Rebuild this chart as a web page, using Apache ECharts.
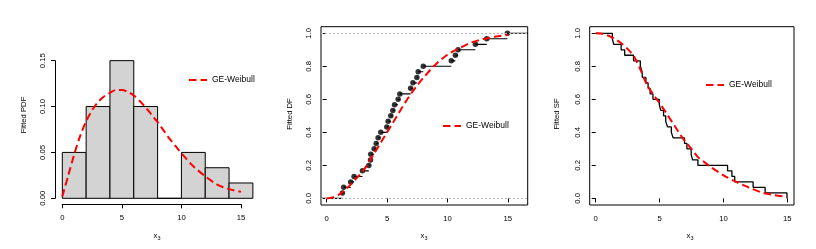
<!DOCTYPE html>
<html><head><meta charset="utf-8">
<script src="https://cdn.jsdelivr.net/npm/echarts@6/dist/echarts.min.js"></script>
<style>html,body{margin:0;padding:0;background:#fff}#c{width:816px;height:249px}</style>
</head><body><div id="c"></div>
<script>
// ---- data ----
const binEdges = [0, 2, 4, 6, 8, 10, 12, 14, 16];
const binDensity = [0.05, 0.10, 0.15, 0.10, 0, 0.05, 0.0333, 0.0167];

const pdfX = [0, 0.5, 1, 1.5, 2, 2.5, 3, 3.5, 4, 4.5, 5, 5.5, 6, 6.5, 7, 7.5, 8, 8.5, 9, 9.5, 10, 11, 12, 13, 14, 15];
const pdfY = [0.002, 0.025, 0.048, 0.068, 0.084, 0.096, 0.105, 0.111, 0.115, 0.118, 0.118, 0.116, 0.112, 0.106, 0.099, 0.091, 0.083, 0.074, 0.065, 0.057, 0.049, 0.035, 0.024, 0.015, 0.010, 0.007];

const sampleX = [1.30, 1.41, 1.99, 2.27, 2.96, 3.49, 3.63, 3.65, 3.93, 4.10, 4.26, 4.48, 4.98, 5.09, 5.31, 5.48, 5.62, 5.92, 6.06, 6.95, 7.14, 7.47, 7.58, 8.00, 10.32, 10.66, 10.88, 12.32, 13.26, 14.97];
const ecdfY = [0.033, 0.067, 0.100, 0.133, 0.167, 0.200, 0.233, 0.267, 0.300, 0.333, 0.367, 0.400, 0.433, 0.467, 0.500, 0.533, 0.567, 0.600, 0.633, 0.667, 0.700, 0.733, 0.767, 0.800, 0.833, 0.867, 0.900, 0.933, 0.967, 1.000];
const esfY = [0.967, 0.933, 0.900, 0.867, 0.833, 0.800, 0.767, 0.733, 0.700, 0.667, 0.633, 0.600, 0.567, 0.533, 0.500, 0.467, 0.433, 0.400, 0.367, 0.333, 0.300, 0.267, 0.233, 0.200, 0.167, 0.133, 0.100, 0.067, 0.033, 0.000];

const cdfX = [0, 0.5, 1, 1.5, 2, 2.5, 3, 3.5, 4, 4.5, 5, 5.5, 6, 6.5, 7, 7.5, 8, 9, 10, 11, 12, 13, 14, 15];
const cdfY = [0, 0.006, 0.022, 0.05, 0.085, 0.125, 0.165, 0.22, 0.28, 0.34, 0.40, 0.46, 0.52, 0.58, 0.635, 0.685, 0.73, 0.81, 0.87, 0.91, 0.945, 0.965, 0.98, 0.99];

const sfX = [0, 0.5, 1, 1.5, 2, 2.5, 3, 3.5, 4, 4.5, 5, 5.5, 6, 6.5, 7, 7.5, 8, 8.5, 9, 10, 11, 12, 13, 14, 15];
const sfY = [1.0, 0.997, 0.985, 0.965, 0.94, 0.905, 0.86, 0.78, 0.69, 0.63, 0.577, 0.52, 0.46, 0.40, 0.345, 0.30, 0.25, 0.22, 0.19, 0.14, 0.10, 0.065, 0.036, 0.02, 0.01];

const xTicks = [0, 5, 10, 15];
const cdfTicks = [0, 0.2, 0.4, 0.6, 0.8, 1.0];
const legendText = 'GE-Weibull';

// ---- build chart ----
const FONT = 'Liberation Sans, Arial, Helvetica, sans-serif';
const FS = 7.7;
const RED = '#ff0000';
const dash = [7.5, 4];

const chart = echarts.init(document.getElementById('c'), null, {renderer: 'canvas'});

function hiddenAxis(grid, min, max) {
  return {type: 'value', gridIndex: grid, min: min, max: max, show: false, splitLine: {show: false}};
}
const tickStyle = {show: true, length: 4, inside: false, lineStyle: {color: '#000', width: 1}};
function lbl(extra) {
  return Object.assign({color: '#000', fontSize: FS, fontFamily: FONT}, extra);
}

const histData = binDensity.map((d, i) => [binEdges[i], binEdges[i + 1], d]);
const segData = sampleX.map((x, i) => [x, i + 1 < sampleX.length ? sampleX[i + 1] : 17, ecdfY[i]]);
segData.unshift([-1, sampleX[0], 0]);

const option = {
  animation: false,
  grid: [
    {left: 54.7, top: 26.7, width: 205.8, height: 178.3},
    {left: 62.3, top: 60.7, width: 178.7, height: 137.6},
    {left: 321, top: 26.7, width: 206.7, height: 178.3, show: true, borderColor: '#000', borderWidth: 1, backgroundColor: 'transparent'},
    {left: 589.7, top: 26.7, width: 204.3, height: 178.3, show: true, borderColor: '#000', borderWidth: 1, backgroundColor: 'transparent'}
  ],
  xAxis: [
    hiddenAxis(0, -0.64, 16.64),
    {type: 'value', gridIndex: 1, min: 0, max: 15, interval: 5, offset: 6, position: 'bottom',
      axisLine: {show: true, onZero: false, lineStyle: {color: '#000', width: 1.2}}, axisTick: tickStyle,
      axisLabel: lbl({margin: 10}), splitLine: {show: false}},
    {type: 'value', gridIndex: 2, min: -0.47, max: 16.65,
      axisLine: {show: false}, axisTick: Object.assign({customValues: xTicks}, tickStyle),
      axisLabel: lbl({margin: 10, customValues: xTicks}), splitLine: {show: false}},
    {type: 'value', gridIndex: 3, min: -0.47, max: 15.52,
      axisLine: {show: false}, axisTick: Object.assign({customValues: xTicks}, tickStyle),
      axisLabel: lbl({margin: 10, customValues: xTicks}), splitLine: {show: false}}
  ],
  yAxis: [
    hiddenAxis(0, -0.0073, 0.187),
    {type: 'value', gridIndex: 1, min: 0, max: 0.15, interval: 0.05, offset: 7.3, position: 'left',
      axisLine: {show: true, onZero: false, lineStyle: {color: '#000', width: 1}}, axisTick: tickStyle,
      axisLabel: lbl({margin: 8, rotate: 90, formatter: v => v.toFixed(2)}), splitLine: {show: false}},
    {type: 'value', gridIndex: 2, min: -0.04, max: 1.04,
      axisLine: {show: false}, axisTick: Object.assign({customValues: cdfTicks}, tickStyle),
      axisLabel: lbl({margin: 8, rotate: 90, customValues: cdfTicks, formatter: v => v.toFixed(1)}), splitLine: {show: false}},
    {type: 'value', gridIndex: 3, min: -0.04, max: 1.04,
      axisLine: {show: false}, axisTick: Object.assign({customValues: cdfTicks}, tickStyle),
      axisLabel: lbl({margin: 8, rotate: 90, customValues: cdfTicks, formatter: v => v.toFixed(1)}), splitLine: {show: false}}
  ],
  series: [
    {type: 'custom', xAxisIndex: 0, yAxisIndex: 0, data: histData, clip: false,
      renderItem: function (params, api) {
        const p0 = api.coord([api.value(0), api.value(2)]);
        const p1 = api.coord([api.value(1), 0]);
        return {type: 'rect', shape: {x: p0[0], y: p0[1], width: p1[0] - p0[0], height: p1[1] - p0[1]},
          style: {fill: '#d3d3d3', stroke: '#000', lineWidth: 1}};
      }},
    {type: 'line', xAxisIndex: 0, yAxisIndex: 0, data: pdfX.map((x, i) => [x, pdfY[i]]),
      showSymbol: false, smooth: 0.3, lineStyle: {color: RED, width: 2, type: dash}, z: 5},
    {type: 'custom', xAxisIndex: 2, yAxisIndex: 2, data: segData, clip: true,
      renderItem: function (params, api) {
        const a = api.coord([api.value(0), api.value(2)]);
        const b = api.coord([api.value(1), api.value(2)]);
        return {type: 'line', shape: {x1: a[0], y1: a[1], x2: b[0], y2: b[1]},
          style: {stroke: '#000', lineWidth: 1.1}};
      }},
    {type: 'scatter', xAxisIndex: 2, yAxisIndex: 2, data: sampleX.map((x, i) => [x, ecdfY[i]]),
      symbolSize: 5.5, itemStyle: {color: '#000'},
      markLine: {silent: true, symbol: 'none', label: {show: false},
        lineStyle: {color: '#b3b3b3', type: [2, 2], width: 1},
        data: [{yAxis: 0}, {yAxis: 1}]}},
    {type: 'line', xAxisIndex: 2, yAxisIndex: 2, data: cdfX.map((x, i) => [x, cdfY[i]]),
      showSymbol: false, smooth: 0.3, lineStyle: {color: RED, width: 2, type: dash}, z: 5},
    {type: 'line', xAxisIndex: 3, yAxisIndex: 3, step: 'end',
      data: [[0, 1]].concat(sampleX.map((x, i) => [x, esfY[i]])),
      showSymbol: false, lineStyle: {color: '#000', width: 1.3}},
    {type: 'line', xAxisIndex: 3, yAxisIndex: 3, data: sfX.map((x, i) => [x, sfY[i]]),
      showSymbol: false, smooth: 0.3, lineStyle: {color: RED, width: 2, type: dash}, z: 5}
  ],
  graphic: []
};

function legend(x, y) {
  return [
    {type: 'line', shape: {x1: x, y1: y, x2: x + 18, y2: y}, style: {stroke: RED, lineWidth: 2, lineDash: dash}},
    {type: 'text', x: x + 23, y: y, style: {text: legendText, fill: '#000', font: '8.5px ' + FONT, textVerticalAlign: 'middle', textAlign: 'left'}}
  ];
}
function ytitle(x, y, t) {
  return {type: 'text', x: x, y: y, rotation: Math.PI / 2,
    style: {text: t, fill: '#000', font: FS + 'px ' + FONT, textAlign: 'center', textVerticalAlign: 'middle'}};
}
function xtitle(x, y) {
  return {type: 'text', x: x, y: y,
    style: {text: '{a|x}{b|3}', textAlign: 'center', textVerticalAlign: 'middle',
      rich: {a: {fontSize: FS, fontFamily: FONT, fill: '#000'}, b: {fontSize: 5.5, fontFamily: FONT, fill: '#000', padding: [4, 0, 0, 0]}}}};
}
option.graphic = [].concat(
  legend(189, 80), legend(443, 126), legend(706, 85),
  [ytitle(24, 115, 'Fitted PDF'), ytitle(290, 114, 'Fitted DF'), ytitle(557, 114, 'Fitted SF'),
   xtitle(157, 236), xtitle(424, 236), xtitle(690, 236)]
);

chart.setOption(option);
</script>
</body></html>
